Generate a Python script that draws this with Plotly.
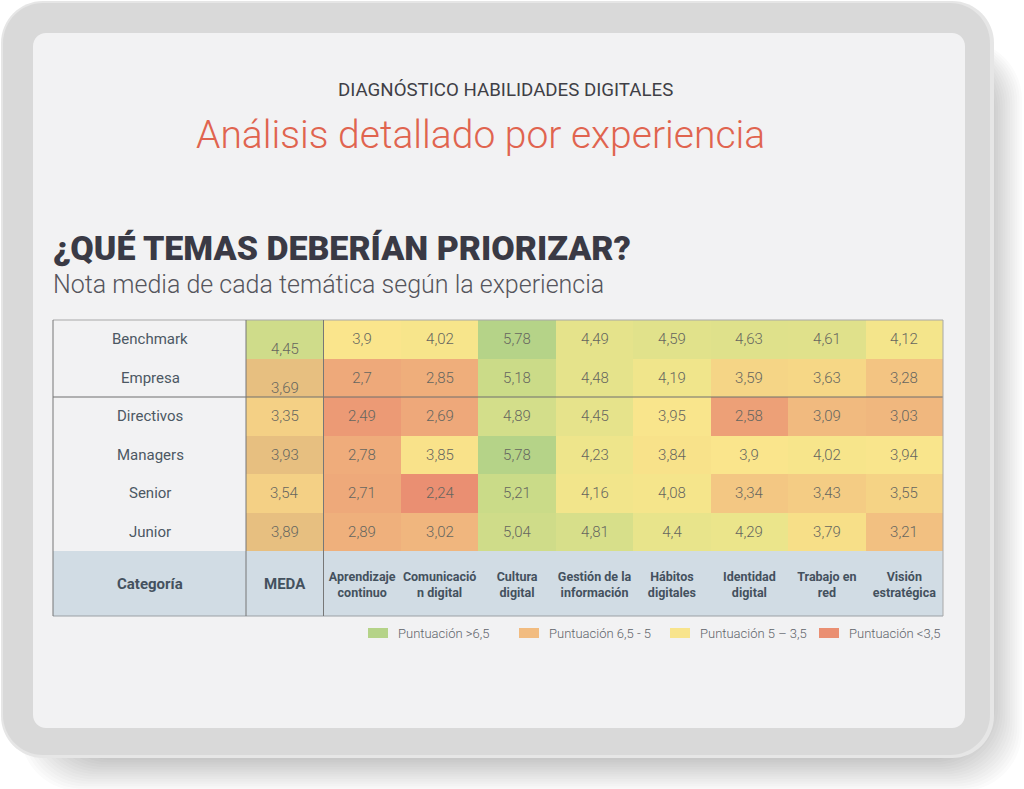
import plotly.graph_objects as go

W, H = 1024, 789

# ---- data ----
rows = ["Benchmark", "Empresa", "Directivos", "Managers", "Senior", "Junior"]
topics = ["Aprendizaje<br>continuo", "Comunicació<br>n digital", "Cultura<br>digital",
          "Gestión de la<br>información", "Hábitos<br>digitales", "Identidad<br>digital",
          "Trabajo en<br>red", "Visión<br>estratégica"]
meda = [4.45, 3.69, 3.35, 3.93, 3.54, 3.89]
aprendizaje = [3.9, 2.7, 2.49, 2.78, 2.71, 2.89]
comunicacion = [4.02, 2.85, 2.69, 3.85, 2.24, 3.02]
cultura = [5.78, 5.18, 4.89, 5.78, 5.21, 5.04]
gestion = [4.49, 4.48, 4.45, 4.23, 4.16, 4.81]
habitos = [4.59, 4.19, 3.95, 3.84, 4.08, 4.4]
identidad = [4.63, 3.59, 2.58, 3.9, 3.34, 4.29]
trabajo = [4.61, 3.63, 3.09, 4.02, 3.43, 3.79]
vision = [4.12, 3.28, 3.03, 3.94, 3.55, 3.21]
legend_labels = ["Puntuación >6,5", "Puntuación 6,5 - 5", "Puntuación 5 – 3,5", "Puntuación <3,5"]
legend_colors = ["#B5D388", "#F2BC80", "#F8E48C", "#EA8F72"]

main_stops = [(2.24, "#EA8F72"), (2.49, "#EC9A75"), (2.7, "#EEA97A"), (2.85, "#EFAE7B"), (3.02, "#F0B67E"),
              (3.28, "#F3C482"), (3.55, "#F5D385"), (3.79, "#F7DF88"), (3.9, "#FAE58C"), (4.12, "#F4E58B"),
              (4.29, "#EBE58B"), (4.49, "#E5E38B"), (4.63, "#DFE18B"), (4.89, "#D3DE8A"), (5.18, "#CBDB88"),
              (5.78, "#B5D388")]
meda_stops = [(3.35, "#F4D085"), (3.54, "#F4D085"), (3.69, "#E7BF80"), (3.93, "#E7BF80"), (4.45, "#CFDC8A")]


def scale(stops):
    lo, hi = stops[0][0], stops[-1][0]
    return [[(v - lo) / (hi - lo), c] for v, c in stops], lo, hi


def label(v):
    return str(v).replace(".", ",")


def px(x):
    return x / W


def py(y):
    return 1 - y / H


def rrect(x0, y0, x1, y1, r):
    a, b, c, d = px(x0), px(x1), py(y0), py(y1)
    rx, ry = r / W, r / H
    k = 0.45
    return (f"M{a+rx},{c} L{b-rx},{c} C{b-rx*k},{c} {b},{c-ry*k} {b},{c-ry} L{b},{d+ry} "
            f"C{b},{d+ry*k} {b-rx*k},{d} {b-rx},{d} L{a+rx},{d} C{a+rx*k},{d} {a},{d+ry*k} {a},{d+ry} "
            f"L{a},{c-ry} C{a},{c-ry*k} {a+rx*k},{c} {a+rx},{c} Z")


shapes = []
# soft shadow, bottom right
for i in range(16):
    g = i * 2.4
    shapes.append(dict(type="path", xref="paper", yref="paper", layer="below",
                       path=rrect(20 + g, 40 + g * 0.4, 1022 - g, 791 - g, 60),
                       fillcolor="rgba(70,70,70,0.018)", line=dict(width=0)))
# device frame
shapes.append(dict(type="path", xref="paper", yref="paper", layer="below", path=rrect(1, 1, 994, 758, 42),
                   fillcolor="#E6E6E6", line=dict(width=0)))
shapes.append(dict(type="path", xref="paper", yref="paper", layer="below", path=rrect(3, 3, 990, 755, 40),
                   fillcolor="#D9D9D9", line=dict(width=0)))
shapes.append(dict(type="path", xref="paper", yref="paper", layer="below", path=rrect(33, 33, 965, 728, 13),
                   fillcolor="#F2F2F3", line=dict(width=0)))
# header band of the table
shapes.append(dict(type="rect", xref="paper", yref="paper", layer="below", x0=px(53), x1=px(943), y0=py(616), y1=py(551),
                   fillcolor="#D1DCE4", line=dict(width=0)))


def hline(x0, x1, y, color, w=1):
    shapes.append(dict(type="line", xref="paper", yref="paper", layer="above", x0=px(x0), x1=px(x1), y0=py(y), y1=py(y),
                       line=dict(color=color, width=w)))


def vline(x, y0, y1, color, w=1):
    shapes.append(dict(type="line", xref="paper", yref="paper", layer="above", x0=px(x), x1=px(x), y0=py(y0), y1=py(y1),
                       line=dict(color=color, width=w)))


hline(53, 943, 320, "#A8A8A8")
hline(53, 943, 397, "#6E6E6E")
hline(53, 943, 616, "#9AA0A5")
vline(53, 320, 616, "#777777")
vline(246, 320, 616, "#777777")
vline(323.5, 320, 616, "#777777")
vline(943, 320, 616, "#A8A8A8")

anns = []


def text(x, y, s, size, color, weight=400, family="Roboto", anchor="center", xref="paper", yshift=0):
    anns.append(dict(x=x, y=y, text=s, xref=xref, yref="paper", xanchor=anchor, yanchor="middle", showarrow=False,
                     yshift=yshift, font=dict(family=family, size=size, color=color, weight=weight)))


text(px(505), py(90), "DIAGNÓSTICO HABILIDADES DIGITALES", 18.7, "#3F3F46")
text(px(480), py(135), "Análisis detallado por experiencia", 39, "#E0644F", weight=300)
text(px(51), py(248), "¿QUÉ TEMAS DEBERÍAN PRIORIZAR?", 34, "#3A3A45", weight=900, anchor="left")
text(px(51), py(284), "Nota media de cada temática según la experiencia", 25, "#55555C", weight=300, anchor="left")
text(px(150), py(584), "<b>Categoría</b>", 15, "#44515E")
text(0, py(584), "<b>MEDA</b>", 15, "#44515E", xref="x")

fig = go.Figure()
topic_cols = [aprendizaje, comunicacion, cultura, gestion, habitos, identidad, trabajo, vision]
z_main = [[col[i] for col in topic_cols] for i in range(len(rows))]
cs, lo, hi = scale(main_stops)
fig.add_trace(go.Heatmap(z=z_main, x=list(range(1, len(topics) + 1)), y=rows, colorscale=cs, zmin=lo, zmax=hi,
                         showscale=False, text=[[label(v) for v in r] for r in z_main], texttemplate="%{text}",
                         textfont=dict(family="Roboto", size=15, color="#66665F", weight=300)))
cs, lo, hi = scale(meda_stops)
fig.add_trace(go.Heatmap(z=[[v] for v in meda], x=[0], y=rows, colorscale=cs, zmin=lo, zmax=hi, showscale=False))

for i, (r, v) in enumerate(zip(rows, meda)):
    anns.append(dict(x=0, y=r, text=label(v), xref="x", yref="y", showarrow=False, xanchor="center", yshift=-10 if i < 2 else 0,
                     font=dict(family="Roboto", size=15, color="#66665F", weight=300)))
    anns.append(dict(x=px(150), y=r, text=r, xref="paper", yref="y", showarrow=False, xanchor="center",
                     font=dict(family="Roboto", size=15, color="#4C5863")))

# legend
leg_x = [368, 519, 670, 819]
for x, s, c in zip(leg_x, legend_labels, legend_colors):
    shapes.append(dict(type="rect", xref="paper", yref="paper", layer="below", x0=px(x), x1=px(x + 20), y0=py(638), y1=py(628),
                       fillcolor=c, line=dict(width=0)))
    text(px(x + 28), py(633), s, 13, "#5F646A", anchor="left", weight=300)

fig.update_layout(
    width=W, height=H, margin=dict(l=0, r=0, t=0, b=0), autosize=False,
    paper_bgcolor="#FFFFFF", plot_bgcolor="rgba(0,0,0,0)", shapes=shapes, annotations=anns,
    xaxis=dict(domain=[px(246), px(943)], range=[-0.5, len(topics) + 0.5],
               tickvals=list(range(1, len(topics) + 1)), ticktext=topics, side="bottom",
               ticks="outside", ticklen=14, tickcolor="rgba(0,0,0,0)", showgrid=False, zeroline=False,
               tickfont=dict(family="Roboto", size=12.5, color="#44515E", weight=700), tickangle=0),
    yaxis=dict(domain=[py(551), py(320)], categoryorder="array", categoryarray=rows[::-1], showticklabels=False,
               showgrid=False, zeroline=False, ticks=""),
)
fig.write_html("out.html", post_script="document.body.style.margin='0';", config=dict(displayModeBar=False))
